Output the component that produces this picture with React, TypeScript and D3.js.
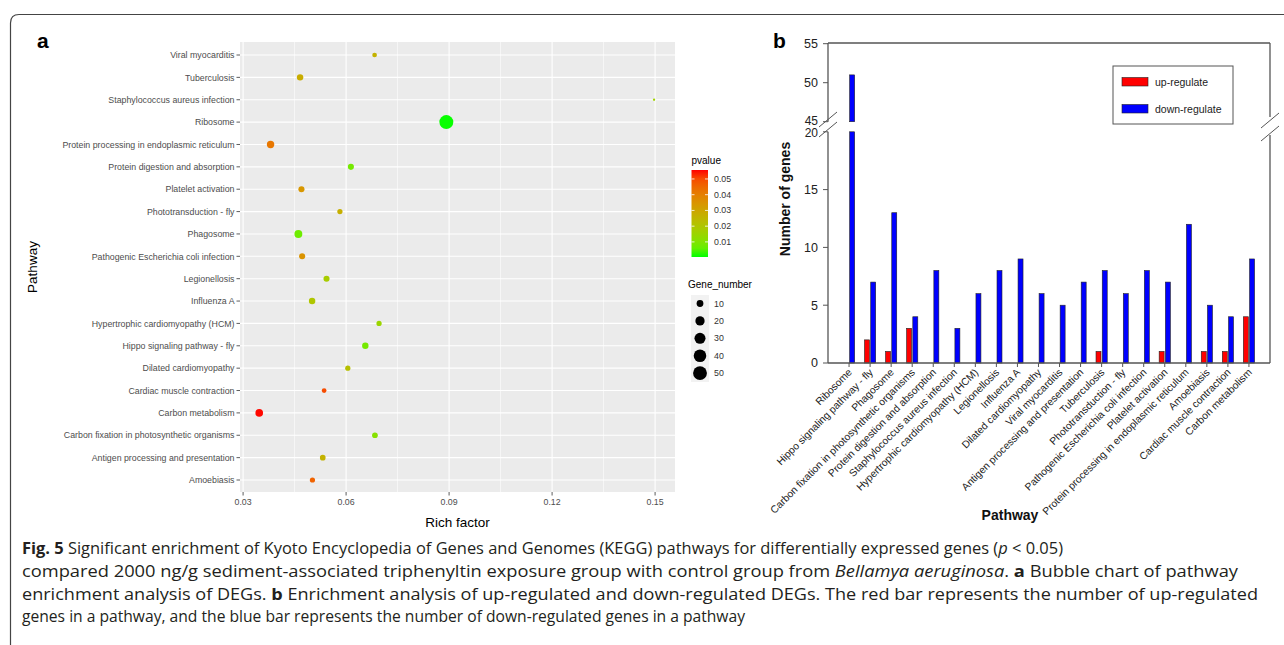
import React from 'react';
import * as d3 from 'd3';

// ---------- Panel a: bubble chart data ----------
const bubblePathways = [
  'Viral myocarditis',
  'Tuberculosis',
  'Staphylococcus aureus infection',
  'Ribosome',
  'Protein processing in endoplasmic reticulum',
  'Protein digestion and absorption',
  'Platelet activation',
  'Phototransduction - fly',
  'Phagosome',
  'Pathogenic Escherichia coli infection',
  'Legionellosis',
  'Influenza A',
  'Hypertrophic cardiomyopathy (HCM)',
  'Hippo signaling pathway - fly',
  'Dilated cardiomyopathy',
  'Cardiac muscle contraction',
  'Carbon metabolism',
  'Carbon fixation in photosynthetic organisms',
  'Antigen processing and presentation',
  'Amoebiasis',
];
const richFactor = [0.0683, 0.0466, 0.1497, 0.0892, 0.038, 0.0614, 0.047, 0.0582, 0.0461, 0.0472, 0.0543, 0.0501, 0.0696, 0.0656, 0.0605, 0.0536, 0.0347, 0.0684, 0.0532, 0.0502];
const geneNumber = [5, 9, 3, 51, 12, 8, 8, 6, 14, 8, 8, 9, 6, 9, 6, 5, 13, 7, 7, 6];
const pValue = [0.026, 0.028, 0.016, 0.0005, 0.042, 0.008, 0.034, 0.027, 0.007, 0.035, 0.018, 0.02, 0.015, 0.008, 0.022, 0.05, 0.0555, 0.011, 0.026, 0.046];
const richTicks = [0.03, 0.06, 0.09, 0.12, 0.15];
const richMinor = [0.045, 0.075, 0.105, 0.135];
const pTicks = [0.01, 0.02, 0.03, 0.04, 0.05];
const sizeTicks = [10, 20, 30, 40, 50];

// ---------- Panel b: bar chart data ----------
const barPathways = [
  'Ribosome',
  'Hippo signaling pathway - fly',
  'Phagosome',
  'Carbon fixation in photosynthetic organisms',
  'Protein digestion and absorption',
  'Staphylococcus aureus infection',
  'Hypertrophic cardiomyopathy (HCM)',
  'Legionellosis',
  'Influenza A',
  'Dilated cardiomyopathy',
  'Viral myocarditis',
  'Antigen processing and presentation',
  'Tuberculosis',
  'Phototransduction - fly',
  'Pathogenic Escherichia coli infection',
  'Platelet activation',
  'Protein processing in endoplasmic reticulum',
  'Amoebiasis',
  'Cardiac muscle contraction',
  'Carbon metabolism',
];
const upRegulated = [0, 2, 1, 3, 0, 0, 0, 0, 0, 0, 0, 0, 1, 0, 0, 1, 0, 1, 1, 4];
const downRegulated = [51, 7, 13, 4, 8, 3, 6, 8, 9, 6, 5, 7, 8, 6, 8, 7, 12, 5, 4, 9];
const lowTicks = [0, 5, 10, 15, 20];
const highTicks = [45, 50, 55];
const seriesNames = ['up-regulate', 'down-regulate'];
const seriesColors = ['#ff0000', '#0000ff'];

const SANS = "'Liberation Sans', Arial, Helvetica, sans-serif";

export default function App() {
  // ----- Panel a scales -----
  const panelA = { left: 240, right: 675, top: 42, bottom: 492 };
  const x = d3.scaleLinear().domain([0.0291, 0.1558]).range([panelA.left, panelA.right]);
  const y = d3.scalePoint<string>().domain(bubblePathways).range([55, 480]);
  const color = d3.scaleLinear<string>().domain([0.0004, 0.0557]).range(['#00ff00', '#ff0000']).interpolate(d3.interpolateLab);
  const sizeScale = d3.scaleSqrt().domain([0, 48]).range([1, 6]);
  const radius = (n: number) => (sizeScale(n - 3) * 2.33) / 2;

  // legend colourbar
  const cb = { x: 691.5, w: 16.5, top: 170, bottom: 257 };
  const cbScale = d3.scaleLinear().domain([0.0004, 0.0557]).range([cb.bottom, cb.top]);
  const gradStops = d3.range(0, 1.0001, 0.1);

  // ----- Panel b scales -----
  const pb = { left: 828, right: 1270, top: 43, bottom: 363 };
  const xb = d3.scalePoint<string>().domain(barPathways).range([pb.left, pb.right]).padding(1);
  const inner = d3.scaleBand<string>().domain(seriesNames).range([-5.6, 5.6]).paddingInner(0.2);
  const yLow = d3.scaleLinear().domain([0, 20]).range([363, 131.8]);
  const yHigh = d3.scaleLinear().domain([45, 55]).range([121.7, 43.7]);

  const barRects: any[] = [];
  barPathways.forEach((p, i) => {
    [upRegulated[i], downRegulated[i]].forEach((v, s) => {
      if (v <= 0) return;
      const bx = (xb(p) as number) + (inner(seriesNames[s]) as number);
      const bw = inner.bandwidth();
      if (v <= 20) {
        barRects.push({ key: `${i}-${s}`, x: bx, y: yLow(v), w: bw, h: yLow(0) - yLow(v), c: seriesColors[s] });
      } else {
        barRects.push({ key: `${i}-${s}-l`, x: bx, y: yLow(20), w: bw, h: yLow(0) - yLow(20), c: seriesColors[s] });
        barRects.push({ key: `${i}-${s}-h`, x: bx, y: yHigh(v), w: bw, h: yHigh(45) - yHigh(v), c: seriesColors[s] });
      }
    });
  });

  const slash = (cx: number, cy: number) => `M${cx - 9},${cy + 7.5}L${cx + 9},${cy - 7.5}`;
  const axisColor = '#555';

  return (
    <svg width={1284} height={645} style={{ position: 'absolute', left: 0, top: 0, background: '#fff' }}>
      <defs>
        <linearGradient id="pgrad" x1="0" y1="1" x2="0" y2="0">
          {gradStops.map((t) => (
            <stop key={t} offset={t} stopColor={color(0.0004 + t * (0.0557 - 0.0004))} />
          ))}
        </linearGradient>
      </defs>

      {/* outer figure frame */}
      <path d="M10.5,645 L10.5,23 Q10.5,14.5 19,14.5 L1284,14.5" fill="none" stroke="#444" strokeWidth={1.2} />

      {/* ================= Panel a ================= */}
      <text x={37} y={48} fontFamily={SANS} fontWeight="bold" fontSize={21}>a</text>
      <rect x={panelA.left} y={panelA.top} width={panelA.right - panelA.left} height={panelA.bottom - panelA.top} fill="#ebebeb" />
      {richMinor.map((t) => (
        <line key={`mn${t}`} x1={x(t)} x2={x(t)} y1={panelA.top} y2={panelA.bottom} stroke="#fff" strokeWidth={0.6} />
      ))}
      {richTicks.map((t) => (
        <line key={`mj${t}`} x1={x(t)} x2={x(t)} y1={panelA.top} y2={panelA.bottom} stroke="#fff" strokeWidth={1.1} />
      ))}
      {bubblePathways.map((p) => (
        <line key={`hy${p}`} x1={panelA.left} x2={panelA.right} y1={y(p)} y2={y(p)} stroke="#fff" strokeWidth={1.1} />
      ))}
      {bubblePathways.map((p, i) => (
        <circle key={`pt${p}`} cx={x(richFactor[i])} cy={y(p)} r={radius(geneNumber[i])} fill={color(pValue[i])} />
      ))}
      {/* y axis labels */}
      {bubblePathways.map((p) => (
        <g key={`yl${p}`}>
          <line x1={panelA.left - 3.5} x2={panelA.left} y1={y(p)} y2={y(p)} stroke="#333" strokeWidth={0.8} />
          <text x={panelA.left - 5.5} y={(y(p) as number) + 3.2} textAnchor="end" fontFamily={SANS} fontSize={8.8} fill="#4d4d4d">{p}</text>
        </g>
      ))}
      {/* x axis */}
      {richTicks.map((t) => (
        <g key={`xt${t}`}>
          <line x1={x(t)} x2={x(t)} y1={panelA.bottom} y2={panelA.bottom + 3.5} stroke="#333" strokeWidth={0.8} />
          <text x={x(t)} y={panelA.bottom + 12.5} textAnchor="middle" fontFamily={SANS} fontSize={8.8} fill="#4d4d4d">{t}</text>
        </g>
      ))}
      <text x={(panelA.left + panelA.right) / 2} y={527} textAnchor="middle" fontFamily={SANS} fontSize={13.5} fill="#000">Rich factor</text>
      <text transform={`translate(37,${(panelA.top + panelA.bottom) / 2}) rotate(-90)`} textAnchor="middle" fontFamily={SANS} fontSize={13.5} fill="#000">Pathway</text>

      {/* pvalue legend */}
      <text x={691.5} y={164} fontFamily={SANS} fontSize={10} fill="#000">pvalue</text>
      <rect x={cb.x} y={cb.top} width={cb.w} height={cb.bottom - cb.top} fill="url(#pgrad)" />
      {pTicks.map((t) => (
        <g key={`pt${t}`}>
          <line x1={cb.x} x2={cb.x + 3} y1={cbScale(t)} y2={cbScale(t)} stroke="#fff" strokeWidth={0.8} />
          <line x1={cb.x + cb.w - 3} x2={cb.x + cb.w} y1={cbScale(t)} y2={cbScale(t)} stroke="#fff" strokeWidth={0.8} />
          <text x={714} y={cbScale(t) + 3} fontFamily={SANS} fontSize={8.8} fill="#333">{t}</text>
        </g>
      ))}

      {/* Gene_number legend */}
      <text x={688} y={288} fontFamily={SANS} fontSize={10} fill="#000">Gene_number</text>
      <rect x={691} y={295} width={18} height={87} fill="#f2f2f2" />
      {sizeTicks.map((n, i) => (
        <g key={`sz${n}`}>
          <circle cx={700} cy={303.5 + i * 17.4} r={radius(n)} fill="#000" />
          <text x={714} y={303.5 + i * 17.4 + 3} fontFamily={SANS} fontSize={8.8} fill="#333">{n}</text>
        </g>
      ))}

      {/* ================= Panel b ================= */}
      <text x={773} y={48} fontFamily={SANS} fontWeight="bold" fontSize={21}>b</text>

      {barRects.map((b) => (
        <rect key={b.key} x={b.x} y={b.y} width={b.w} height={b.h} fill={b.c} stroke="#222" strokeWidth={0.6} />
      ))}

      {/* frame */}
      <line x1={pb.left} x2={pb.right} y1={pb.top} y2={pb.top} stroke={axisColor} strokeWidth={1.3} />
      <line x1={pb.left} x2={pb.right} y1={pb.bottom} y2={pb.bottom} stroke={axisColor} strokeWidth={1.3} />
      <line x1={pb.left} x2={pb.left} y1={pb.top} y2={yHigh(45)} stroke={axisColor} strokeWidth={1.3} />
      <line x1={pb.left} x2={pb.left} y1={yLow(20)} y2={pb.bottom} stroke={axisColor} strokeWidth={1.3} />
      <line x1={pb.right} x2={pb.right} y1={pb.top} y2={117} stroke={axisColor} strokeWidth={1.3} />
      <line x1={pb.right} x2={pb.right} y1={135} y2={pb.bottom} stroke={axisColor} strokeWidth={1.3} />
      <path d={slash(pb.left, 119.5) + slash(pb.left, 129.5)} stroke={axisColor} strokeWidth={1} fill="none" />
      <path d={slash(pb.right, 120.5) + slash(pb.right, 133.5)} stroke={axisColor} strokeWidth={1} fill="none" />

      {/* y ticks */}
      {lowTicks.map((t) => (
        <g key={`lt${t}`}>
          <line x1={pb.left - 5} x2={pb.left} y1={yLow(t)} y2={yLow(t)} stroke={axisColor} strokeWidth={1} />
          <text x={818} y={yLow(t) + (t === 20 ? 5 : 4.3)} textAnchor="end" fontFamily={SANS} fontSize={t === 20 ? 12 : 12.5} fill="#222">{t}</text>
        </g>
      ))}
      {highTicks.map((t) => (
        <g key={`ht${t}`}>
          <line x1={pb.left - 5} x2={pb.left} y1={yHigh(t)} y2={yHigh(t)} stroke={axisColor} strokeWidth={1} />
          <text x={818} y={yHigh(t) + (t === 45 ? 3 : 4.3)} textAnchor="end" fontFamily={SANS} fontSize={t === 45 ? 12 : 12.5} fill="#222">{t}</text>
        </g>
      ))}
      <text transform={`translate(790,199) rotate(-90)`} textAnchor="middle" fontFamily={SANS} fontWeight="bold" fontSize={14} fill="#111">Number of genes</text>

      {/* x ticks */}
      {barPathways.map((p) => (
        <g key={`bx${p}`}>
          <line x1={xb(p)} x2={xb(p)} y1={pb.bottom} y2={pb.bottom + 4} stroke={axisColor} strokeWidth={1} />
          <text transform={`translate(${(xb(p) as number) + 3.5},${pb.bottom + 10}) rotate(-45)`} textAnchor="end" fontFamily={SANS} fontSize={10.3} fill="#222">{p}</text>
        </g>
      ))}
      <text x={1010} y={520} textAnchor="middle" fontFamily={SANS} fontWeight="bold" fontSize={14} fill="#111">Pathway</text>

      {/* legend */}
      <rect x={1113} y={66} width={120} height={58} fill="#fff" stroke={axisColor} strokeWidth={1} />
      {seriesNames.map((s, i) => (
        <g key={`lg${s}`}>
          <rect x={1122} y={77.5 + i * 27} width={26} height={8.5} fill={seriesColors[i]} stroke="#222" strokeWidth={0.6} />
          <text x={1155} y={85.5 + i * 27} fontFamily={SANS} fontSize={10.5} fill="#222">{s}</text>
        </g>
      ))}

      {/* ================= Caption ================= */}
      <g fontFamily="'Open Sans', 'Noto Sans', sans-serif" fontSize={16} fill="#231f20">
        <text x={22} y={554} textLength={1041} lengthAdjust="spacingAndGlyphs">
          <tspan fontWeight="bold">Fig. 5</tspan>
          <tspan>{'  Significant enrichment of Kyoto Encyclopedia of Genes and Genomes (KEGG) pathways for differentially expressed genes ('}</tspan>
          <tspan fontStyle="italic">p</tspan>
          <tspan>{' < 0.05)'}</tspan>
        </text>
        <text x={22} y={577} textLength={1216} lengthAdjust="spacingAndGlyphs">
          <tspan>{'compared 2000 ng/g sediment-associated triphenyltin exposure group with control group from '}</tspan>
          <tspan fontStyle="italic">Bellamya aeruginosa</tspan>
          <tspan>{'. '}</tspan>
          <tspan fontWeight="bold">a</tspan>
          <tspan>{' Bubble chart of pathway'}</tspan>
        </text>
        <text x={22} y={599.5} textLength={1236} lengthAdjust="spacingAndGlyphs">
          <tspan>{'enrichment analysis of DEGs. '}</tspan>
          <tspan fontWeight="bold">b</tspan>
          <tspan>{' Enrichment analysis of up-regulated and down-regulated DEGs. The red bar represents the number of up-regulated'}</tspan>
        </text>
        <text x={22} y={622} textLength={723} lengthAdjust="spacingAndGlyphs">
          genes in a pathway, and the blue bar represents the number of down-regulated genes in a pathway
        </text>
      </g>
    </svg>
  );
}
